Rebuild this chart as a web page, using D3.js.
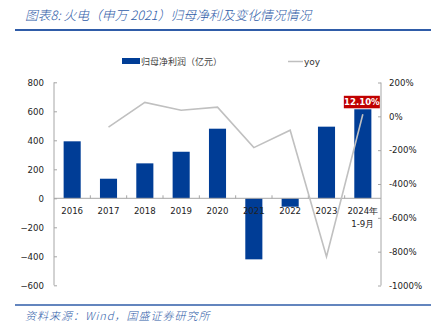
<!DOCTYPE html>
<html>
<head>
<meta charset="utf-8">
<script src="https://cdn.jsdelivr.net/npm/d3@7"></script>
<style>
  html, body { margin: 0; padding: 0; background: #fff; }
  svg { display: block; }
</style>
</head>
<body>
<svg id="chart" width="431" height="331"></svg>
<script>
// Thermal power (SW 2021): net profit attributable to parent and YoY change
const categories = ["2016", "2017", "2018", "2019", "2020", "2021", "2022", "2023", "2024年\n1-9月"];
const netProfit = [393, 135, 241, 321, 480, -421, -58, 494, 614];
const yoy = [null, -64, 82, 36, 54, -185, -82, -830, 12.10];
const leftTicks = [800, 600, 400, 200, 0, -200, -400, -600];
const rightTicks = [200, 0, -200, -400, -600, -800, -1000];
const labelText = "12.10%";

const svg = d3.select("#chart");
const blue = "#003d96";
const frameBlue = "#2f5ca8";
const tickFont = "DejaVu Sans, Verdana, sans-serif";
const cjkFont = "'Noto Sans CJK SC', sans-serif";

const x0 = 54, x1 = 381;
const x = d3.scaleBand().domain(categories).range([x0, x1]).paddingInner(0.53).paddingOuter(0.265);
const yL = d3.scaleLinear().domain([-600, 800]).range([285.3, 82.3]);
const yR = d3.scaleLinear().domain([-1000, 200]).range([285.5, 82.5]);

// Title
svg.append("text")
  .attr("x", 25).attr("y", 20)
  .attr("font-family", cjkFont).attr("font-size", 12.8).attr("font-style", "italic")
  .attr("font-weight", 300)
  .attr("fill", frameBlue)
  .text("图表8:  火电（申万 2021）归母净利及变化情况情况");
svg.append("line").attr("x1", 15).attr("x2", 431).attr("y1", 30).attr("y2", 30)
  .attr("stroke", frameBlue).attr("stroke-width", 2);

// Legend
svg.append("rect").attr("x", 122).attr("y", 58).attr("width", 18).attr("height", 6).attr("fill", blue);
svg.append("text").attr("x", 141).attr("y", 65)
  .attr("font-family", cjkFont).attr("font-size", 9).attr("fill", "#444")
  .text("归母净利润（亿元）");
svg.append("line").attr("x1", 288).attr("x2", 303).attr("y1", 61.5).attr("y2", 61.5)
  .attr("stroke", "#bfbfbf").attr("stroke-width", 1.5);
svg.append("text").attr("x", 304).attr("y", 65)
  .attr("font-family", tickFont).attr("font-size", 9).attr("fill", "#333")
  .text("yoy");

// Left axis (ticks pointing inward)
const leftAxis = d3.axisLeft(yL).tickValues(leftTicks).tickSize(-3).tickPadding(10);
const gL = svg.append("g").attr("transform", `translate(${x0},0)`).call(leftAxis);
gL.select(".domain").attr("stroke", "#a6a6a6").attr("d", `M0,${yL(800)}V${yL(-600)}`);
gL.selectAll(".tick line").attr("stroke", "#a6a6a6");
gL.selectAll(".tick text").attr("font-family", tickFont).attr("font-size", 8.6).attr("fill", "#222");

// Right axis (ticks pointing inward)
const rightAxis = d3.axisRight(yR).tickValues(rightTicks).tickSize(-3).tickPadding(8)
  .tickFormat(d => d + "%");
const gR = svg.append("g").attr("transform", `translate(${x1},0)`).call(rightAxis);
gR.select(".domain").attr("stroke", "#a6a6a6").attr("d", `M0,${yR(200)}V${yR(-1000)}`);
gR.selectAll(".tick line").attr("stroke", "#a6a6a6");
gR.selectAll(".tick text").attr("font-family", tickFont).attr("font-size", 8.6).attr("fill", "#222");

// Bars
svg.append("g").selectAll("rect").data(netProfit).join("rect")
  .attr("x", (d, i) => x(categories[i]))
  .attr("width", x.bandwidth())
  .attr("y", d => yL(Math.max(0, d)))
  .attr("height", d => Math.abs(yL(d) - yL(0)))
  .attr("fill", blue);

// Category axis along zero, with ticks at band boundaries
const step = x.step();
svg.append("line").attr("x1", x0).attr("x2", x1).attr("y1", yL(0)).attr("y2", yL(0))
  .attr("stroke", "#a6a6a6");
svg.append("g").selectAll("line").data(categories.slice(1)).join("line")
  .attr("x1", d => x(d) - x.paddingInner() * step / 2)
  .attr("x2", d => x(d) - x.paddingInner() * step / 2)
  .attr("y1", yL(0)).attr("y2", yL(0) - 3)
  .attr("stroke", "#a6a6a6");
const catLabels = svg.append("g").selectAll("text").data(categories).join("text")
  .attr("x", d => x(d) + x.bandwidth() / 2)
  .attr("y", yL(0) + 16)
  .attr("text-anchor", "middle")
  .attr("font-family", tickFont).attr("font-size", 8.6).attr("fill", "#222");
catLabels.each(function(d) {
  const parts = d.split("\n");
  const t = d3.select(this);
  parts.forEach((p, k) => {
    t.append("tspan").attr("x", x(d) + x.bandwidth() / 2).attr("dy", k === 0 ? 0 : 12.5).text(p);
  });
});

// YoY line
const line = d3.line()
  .defined(d => d != null)
  .x((d, i) => x(categories[i]) + x.bandwidth() / 2)
  .y(d => yR(d));
svg.append("path").datum(yoy).attr("d", line)
  .attr("fill", "none").attr("stroke", "#c0c0c0").attr("stroke-width", 1.6);

// Value label on the latest point
const li = yoy.length - 1;
const lx = x(categories[li]) + x.bandwidth() / 2;
const ly = yR(yoy[li]);
svg.append("rect").attr("x", lx - 19).attr("y", ly - 18.5).attr("width", 36).attr("height", 12.5)
  .attr("fill", "#c00000");
svg.append("text").attr("x", lx - 1).attr("y", ly - 9)
  .attr("text-anchor", "middle").attr("font-family", tickFont).attr("font-weight", "bold")
  .attr("font-size", 8.6).attr("fill", "#fff")
  .text(labelText);

// Source note
svg.append("line").attr("x1", 15).attr("x2", 431).attr("y1", 305).attr("y2", 305)
  .attr("stroke", frameBlue).attr("stroke-width", 1.5);
svg.append("text").attr("x", 25).attr("y", 320)
  .attr("font-family", cjkFont).attr("font-size", 11).attr("font-style", "italic")
  .attr("font-weight", 300).attr("letter-spacing", 1)
  .attr("fill", frameBlue)
  .text("资料来源：Wind，国盛证券研究所");
</script>
</body>
</html>
